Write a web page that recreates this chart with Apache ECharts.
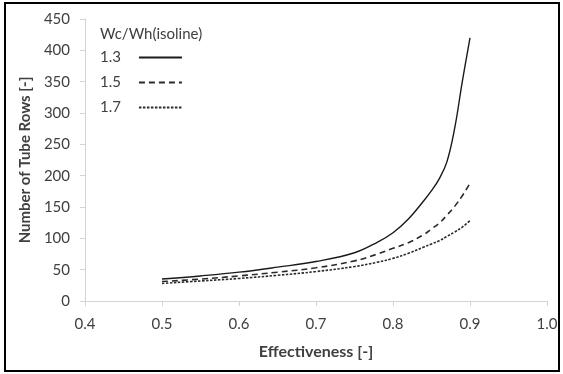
<!DOCTYPE html>
<html>
<head>
<meta charset="utf-8">
<script src="https://cdn.jsdelivr.net/npm/echarts@6/dist/echarts.min.js"></script>
<style>
  html, body { margin: 0; padding: 0; background: #fff; }
  #chart { width: 563px; height: 374px; }
</style>
</head>
<body>
<div id="chart"></div>
<script>
// Effectiveness values shared by all isolines
const effectiveness = [0.50, 0.55, 0.60, 0.65, 0.70, 0.75, 0.78, 0.80, 0.82, 0.84, 0.85, 0.86, 0.87, 0.88, 0.89, 0.90];
// Number of tube rows for each Wc/Wh ratio
const rows13 = [35, 40, 46, 54, 63, 77, 94, 109, 131, 160, 176, 195, 222, 275, 350, 420];
const rows15 = [31, 35, 40, 46, 53, 64, 75, 84, 93, 106, 115, 124, 137, 151, 168, 188];
const rows17 = [28, 32, 36, 41, 47, 55, 62, 68, 76, 86, 91, 96, 103, 110, 118, 128];
const ratioNames = ['1.3', '1.5', '1.7'];
const xTicks = { min: 0.4, max: 1.0, interval: 0.1 };
const yTicks = { min: 0, max: 450, interval: 50 };

const FONT = 'Lato, "Open Sans", sans-serif';
const pair = vals => effectiveness.map((x, i) => [x, vals[i]]);

const chart = echarts.init(document.getElementById('chart'), null, { renderer: 'canvas' });

const lineBase = { type: 'line', smooth: 0.4, showSymbol: false, symbol: 'none', animation: false };

chart.setOption({
  backgroundColor: '#fff',
  animation: false,
  grid: { left: 85, right: 16, top: 19, bottom: 73 },
  title: {
    text: 'Wc/Wh(isoline)',
    left: 95, top: 22,
    textStyle: { fontFamily: FONT, fontSize: 15, fontWeight: 'normal', color: '#404040' }
  },
  legend: {
    orient: 'vertical',
    left: 95, top: 45,
    align: 'right',
    itemWidth: 43, itemHeight: 12, itemGap: 10,
    itemStyle: { opacity: 0 },
    textStyle: { fontFamily: FONT, fontSize: 15, color: '#404040', padding: [0, 13, 0, 0] },
    data: ratioNames
  },
  xAxis: {
    type: 'value',
    min: xTicks.min, max: xTicks.max, interval: xTicks.interval,
    name: 'Effectiveness [-]',
    nameLocation: 'middle', nameGap: 43,
    nameTextStyle: { fontFamily: FONT, fontSize: 16, fontWeight: 'bold', color: '#404040' },
    axisLine: { lineStyle: { color: '#d4d4d4', width: 1 } },
    axisTick: { show: true, length: 5, lineStyle: { color: '#d4d4d4' } },
    axisLabel: { fontFamily: FONT, fontSize: 15, color: '#404040', margin: 16,
                 formatter: v => v.toFixed(1) },
    splitLine: { show: false }
  },
  yAxis: {
    type: 'value',
    min: yTicks.min, max: yTicks.max, interval: yTicks.interval,
    name: 'Number of Tube Rows [-]',
    nameLocation: 'middle', nameGap: 50, nameRotate: 90,
    nameTextStyle: { fontFamily: FONT, fontSize: 15, fontWeight: 'bold', color: '#404040' },
    axisLine: { show: true, lineStyle: { color: '#d4d4d4', width: 1 } },
    axisTick: { show: true, length: 5, lineStyle: { color: '#d4d4d4' } },
    axisLabel: { fontFamily: FONT, fontSize: 15, color: '#404040', margin: 15 },
    splitLine: { show: false }
  },
  series: [
    Object.assign({}, lineBase, {
      name: ratioNames[0], data: pair(rows13),
      lineStyle: { color: '#1a1a1a', width: 1.4, type: 'solid' },
      itemStyle: { color: '#1a1a1a' }
    }),
    Object.assign({}, lineBase, {
      name: ratioNames[1], data: pair(rows15),
      lineStyle: { color: '#2a2a2a', width: 1.6, type: [6, 4] },
      itemStyle: { color: '#2a2a2a' }
    }),
    Object.assign({}, lineBase, {
      name: ratioNames[2], data: pair(rows17),
      lineStyle: { color: '#2a2a2a', width: 1.6, type: [2.5, 1.5] },
      itemStyle: { color: '#2a2a2a' }
    })
  ],
  graphic: [{
    type: 'rect',
    shape: { x: 5, y: 3, width: 554, height: 368 },
    style: { fill: null, stroke: '#000', lineWidth: 2 },
    silent: true
  }]
});
</script>
</body>
</html>
